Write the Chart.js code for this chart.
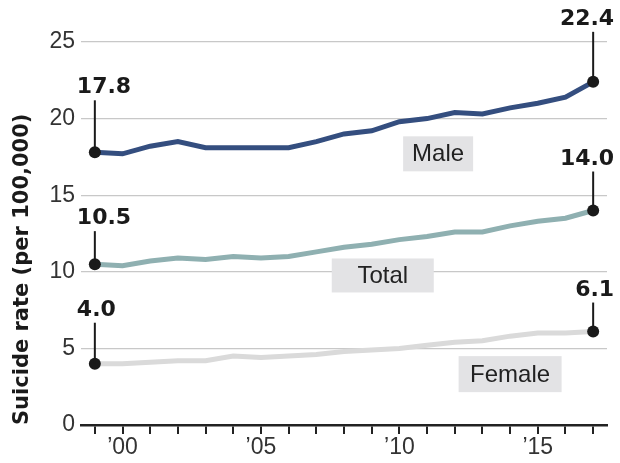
<!DOCTYPE html>
<html>
<head>
<meta charset="utf-8">
<script src="https://cdn.jsdelivr.net/npm/chart.js@4.4.1/dist/chart.umd.min.js"></script>
<style>
  html, body { margin: 0; padding: 0; background: #fff; }
  #wrap { width: 620px; height: 463px; }
</style>
</head>
<body>
<div id="wrap"><canvas id="suicideChart" width="620" height="463"></canvas></div>
<script>
// values (rate per 100,000)
const years = [1999, 2000, 2001, 2002, 2003, 2004, 2005, 2006, 2007, 2008,
               2009, 2010, 2011, 2012, 2013, 2014, 2015, 2016, 2017];
const maleRates = [17.8, 17.7, 18.2, 18.5, 18.1, 18.1, 18.1, 18.1, 18.5, 19.0,
                   19.2, 19.8, 20.0, 20.4, 20.3, 20.7, 21.0, 21.4, 22.4];
const totalRates = [10.5, 10.4, 10.7, 10.9, 10.8, 11.0, 10.9, 11.0, 11.3, 11.6,
                    11.8, 12.1, 12.3, 12.6, 12.6, 13.0, 13.3, 13.5, 14.0];
const femaleRates = [4.0, 4.0, 4.1, 4.2, 4.2, 4.5, 4.4, 4.5, 4.6, 4.8,
                     4.9, 5.0, 5.2, 5.4, 5.5, 5.8, 6.0, 6.0, 6.1];
const seriesNames = ['Male', 'Total', 'Female'];
const xTickYears = [2000, 2005, 2010, 2015];
const xTickLabels = ['\u201900', '\u201905', '\u201910', '\u201915'];
const yTicks = [0, 5, 10, 15, 20, 25];

// where the name tags and the value call-outs sit
const tagSpots = [
  { at: 12.4, value: 17.7, w: 70, h: 35 },
  { at: 10.4, value: 9.76, w: 102, h: 34 },
  { at: 15.0, value: 3.32, w: 103, h: 36 }
];
const callouts = [
  { ds: 0, i: 0, lift: 52, side: 'left' },
  { ds: 0, i: 18, lift: 50, side: 'right' },
  { ds: 1, i: 0, lift: 33, side: 'left' },
  { ds: 1, i: 18, lift: 39, side: 'right' },
  { ds: 2, i: 0, lift: 41, side: 'left' },
  { ds: 2, i: 18, lift: 29, side: 'right' }
];

const annotate = {
  id: 'annotate',
  beforeDatasetsDraw(chart) {
    const ctx = chart.ctx;
    const x = chart.scales.x, y = chart.scales.y;
    ctx.save();
    ctx.font = '24px "Liberation Sans", Arial, sans-serif';
    ctx.textAlign = 'center';
    ctx.textBaseline = 'middle';
    tagSpots.forEach((t, k) => {
      const cx = x.getPixelForValue(t.at);
      const cy = y.getPixelForValue(t.value);
      ctx.fillStyle = '#e3e3e5';
      ctx.fillRect(cx - t.w / 2, cy - t.h / 2, t.w, t.h);
      ctx.fillStyle = '#222';
      ctx.fillText(seriesNames[k], cx, cy + 1);
    });
    ctx.restore();
  },
  afterDatasetsDraw(chart) {
    const ctx = chart.ctx;
    ctx.save();
    callouts.forEach(c => {
      const pt = chart.getDatasetMeta(c.ds).data[c.i];
      const value = chart.data.datasets[c.ds].data[c.i];
      ctx.strokeStyle = '#1a1a1a';
      ctx.lineWidth = 2;
      ctx.beginPath();
      ctx.moveTo(pt.x, pt.y);
      ctx.lineTo(pt.x, pt.y - c.lift);
      ctx.stroke();
      ctx.fillStyle = '#1a1a1a';
      ctx.font = 'bold 22px "DejaVu Sans", sans-serif';
      ctx.textBaseline = 'alphabetic';
      ctx.textAlign = c.side;
      const tx = c.side === 'left' ? pt.x - 18 : pt.x + 21;
      ctx.fillText(value.toFixed(1), tx, pt.y - c.lift - 7);
    });
    ctx.restore();
  }
};

function endDots(n) {
  return ctx => (ctx.dataIndex === 0 || ctx.dataIndex === n - 1) ? 6 : 0;
}

const lineColors = ['#344e7f', '#8fb0b1', '#dadada'];
const seriesData = [maleRates, totalRates, femaleRates];

new Chart(document.getElementById('suicideChart'), {
  type: 'line',
  data: {
    labels: years,
    datasets: seriesData.map((d, k) => ({
      label: seriesNames[k],
      data: d,
      borderColor: lineColors[k],
      borderWidth: 5,
      tension: 0,
      pointRadius: endDots(years.length),
      pointHoverRadius: endDots(years.length),
      pointBackgroundColor: '#1a1a1a',
      pointBorderWidth: 0
    }))
  },
  options: {
    responsive: false,
    animation: false,
    devicePixelRatio: 1,
    layout: { padding: { top: 42, right: 13, bottom: 0, left: 0 } },
    plugins: {
      legend: { display: false },
      tooltip: { enabled: false }
    },
    scales: {
      x: {
        type: 'category',
        offset: true,
        grid: {
          offset: false,
          drawOnChartArea: false,
          drawTicks: true,
          tickLength: 9,
          color: '#222',
          lineWidth: 2
        },
        border: { display: true, color: '#222', width: 2.5 },
        ticks: {
          autoSkip: false,
          maxRotation: 0,
          padding: 0,
          color: '#333',
          font: { family: '"Liberation Sans", Arial, sans-serif', size: 23 },
          callback: function(value, index) {
            const k = xTickYears.indexOf(years[index]);
            return k >= 0 ? xTickLabels[k] : '';
          }
        },
        afterFit: scale => { scale.height = 38; }
      },
      y: {
        min: 0,
        max: 25,
        afterBuildTicks: scale => { scale.ticks = yTicks.map(v => ({ value: v })); },
        grid: {
          drawTicks: false,
          color: ctx => ctx.tick && ctx.tick.value === 0 ? 'rgba(0,0,0,0)' : '#c8c8c8',
          lineWidth: 1.2
        },
        border: { display: false },
        ticks: {
          padding: 6,
          color: '#333',
          font: { family: '"Liberation Sans", Arial, sans-serif', size: 23 }
        },
        title: {
          display: true,
          text: 'Suicide rate (per 100,000)',
          align: 'start',
          color: '#1a1a1a',
          padding: { top: 10, bottom: 0 },
          font: { family: '"DejaVu Sans", sans-serif', size: 21, weight: 'bold' }
        },
        afterFit: scale => { scale.width = 81; }
      }
    }
  },
  plugins: [annotate]
});
</script>
</body>
</html>
